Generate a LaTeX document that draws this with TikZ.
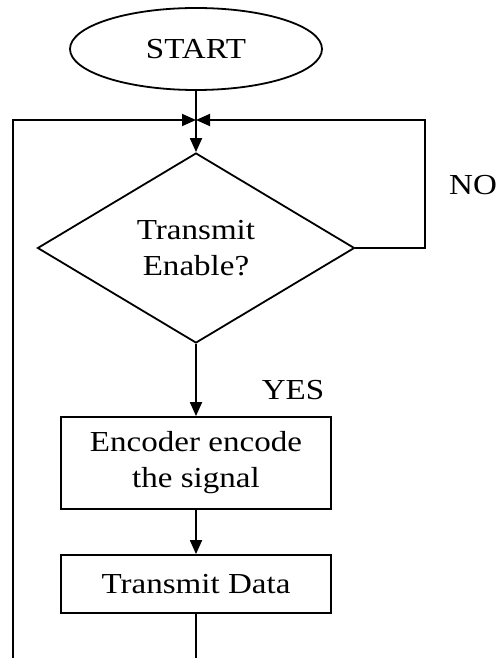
\documentclass[tikz,border=0pt]{standalone}
\usepackage{fontspec}
\setmainfont{Liberation Serif}[FakeStretch=1.14]
\usetikzlibrary{shapes.geometric,arrows.meta}
\begin{document}
\begin{tikzpicture}[x=1pt,y=-1pt,line width=1.8pt,
  every node/.style={font=\fontsize{29}{36}\selectfont},
  flow/.style={-{Triangle[length=14pt,width=12pt]}},
  terminal/.style={draw,ellipse,minimum width=252pt,minimum height=82pt,inner sep=0pt},
  decision/.style={draw,diamond,aspect=1.67,minimum width=317pt,minimum height=190pt,inner sep=0pt,align=center},
  process/.style={draw,rectangle,minimum width=270pt,inner sep=0pt,align=center},
  label/.style={inner sep=0pt}]
  \useasboundingbox (0,0) rectangle (498,658);

  \node[terminal] (start) at (196,49) {START};
  \coordinate (merge) at (196,120);
  \node[decision] (dec) at (196,248) {Transmit\\Enable?};
  \node[process,minimum height=92pt] (enc) at (196,463) {Encoder encode\\the signal};
  \node[process,minimum height=58pt] (tx) at (196,584) {Transmit Data};
  \coordinate (txout) at (196,658);
  \coordinate (loopbot) at (13,658);
  \coordinate (looptop) at (13,120);
  \coordinate (nocorner) at (425,248);
  \coordinate (notop) at (425,120);

  \node[label] (no) at (473,185) {NO};
  \node[label] (yes) at (293,390) {YES};

  \draw (start.south) -- (merge);
  \draw[flow] (merge) -- (dec.north);
  \draw[flow] (loopbot) -- (looptop) -- (merge);
  \draw[flow] (dec.east) -- (nocorner) -- (notop) -- (merge);
  \draw[flow] (dec.south) -- (enc.north);
  \draw[flow] (enc.south) -- (tx.north);
  \draw (tx.south) -- (txout);
\end{tikzpicture}
\end{document}
